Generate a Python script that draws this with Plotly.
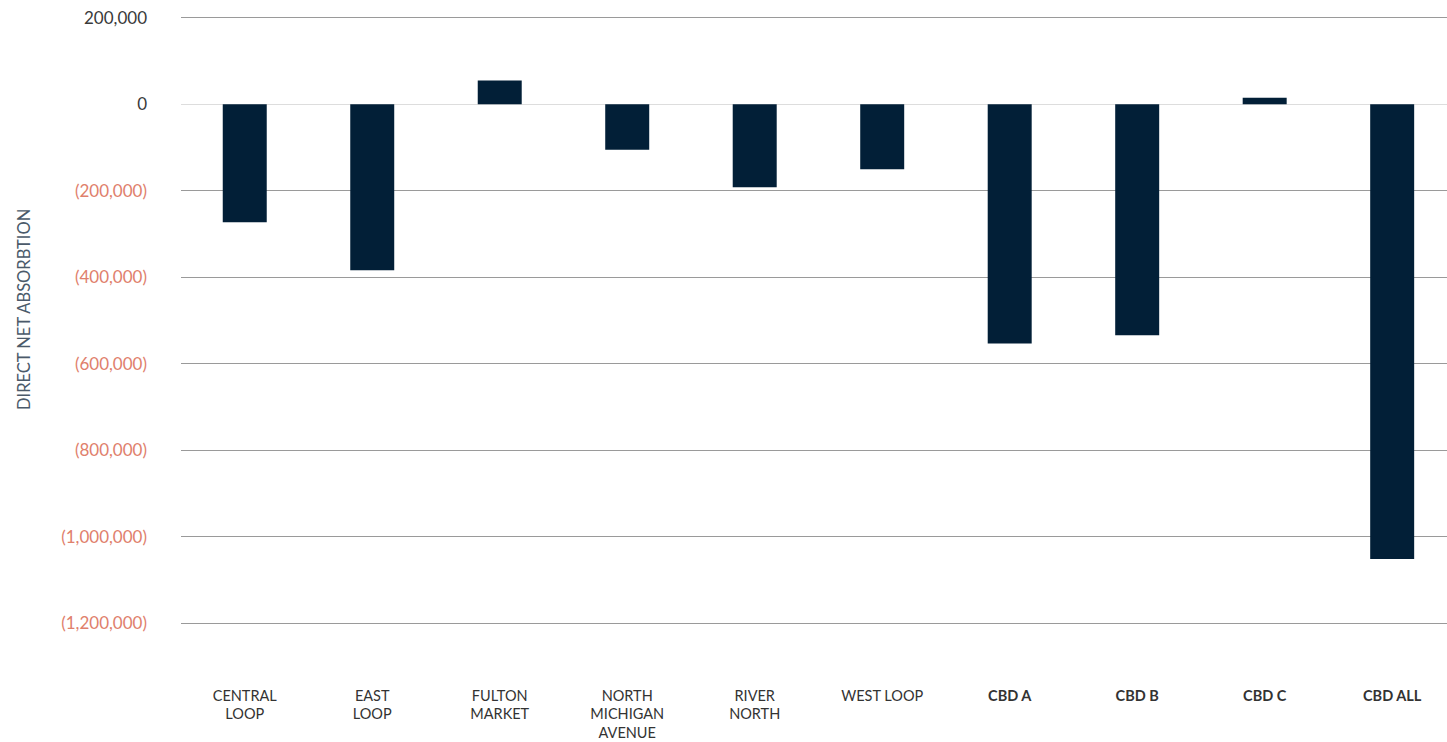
import plotly.graph_objects as go

# Direct net absorption by submarket (sq ft)
submarkets = ["CENTRAL<br>LOOP", "EAST<br>LOOP", "FULTON<br>MARKET", "NORTH<br>MICHIGAN<br>AVENUE",
              "RIVER<br>NORTH", "WEST LOOP", "<b>CBD A</b>", "<b>CBD B</b>", "<b>CBD C</b>", "<b>CBD ALL</b>"]
absorption = [-273000, -384000, 55000, -105000, -192000, -150000, -553000, -534000, 15000, -1051000]

tick_values = [200000, 0, -200000, -400000, -600000, -800000, -1000000, -1200000]
tick_labels = ["200,000", "0", "(200,000)", "(400,000)", "(600,000)", "(800,000)", "(1,000,000)", "(1,200,000)"]

POS_COLOR = "#3a3a3a"
NEG_COLOR = "#e0806c"
tick_text = [
    f"<span style='color:{NEG_COLOR}'>{t}</span>" if v < 0 else f"<span style='color:{POS_COLOR}'>{t}</span>"
    for v, t in zip(tick_values, tick_labels)
]

x = list(range(len(submarkets)))

fig = go.Figure(go.Bar(
    x=x, y=absorption, width=0.345,
    marker=dict(color="#021f37", line=dict(width=0)),
    hoverinfo="skip",
))

fig.update_layout(
    width=1447, height=742,
    margin=dict(l=181, r=0, t=0, b=62),
    plot_bgcolor="white", paper_bgcolor="white",
    showlegend=False,
    font=dict(family="Lato", size=17, color="#333333"),
    xaxis=dict(
        range=[-0.5, 9.43],
        tickmode="array", tickvals=x, ticktext=submarkets,
        showgrid=False, zeroline=False, showline=False,
        ticks="", ticklabelstandoff=5,
        tickfont=dict(size=14.5, color="#333333"),
        automargin=False, fixedrange=True,
    ),
    yaxis=dict(
        range=[-1331000, 241000],
        tickmode="array", tickvals=tick_values, ticktext=tick_text,
        showgrid=True, gridcolor="#9a9a9a", gridwidth=1.3,
        zeroline=True, zerolinecolor="#dddddd", zerolinewidth=1.3,
        showline=False, ticks="", ticklabelstandoff=33,
        tickfont=dict(size=17),
        automargin=False, fixedrange=True,
    ),
    annotations=[dict(
        text="DIRECT NET ABSORBTION", textangle=-90,
        xref="paper", yref="paper", x=(24 - 181) / 1266, y=(680 - 310) / 680,
        xanchor="center", yanchor="middle", showarrow=False,
        font=dict(family="Lato", size=16.5, color="#4b5a6a"),
    )],
)

fig.write_html("out.html")
